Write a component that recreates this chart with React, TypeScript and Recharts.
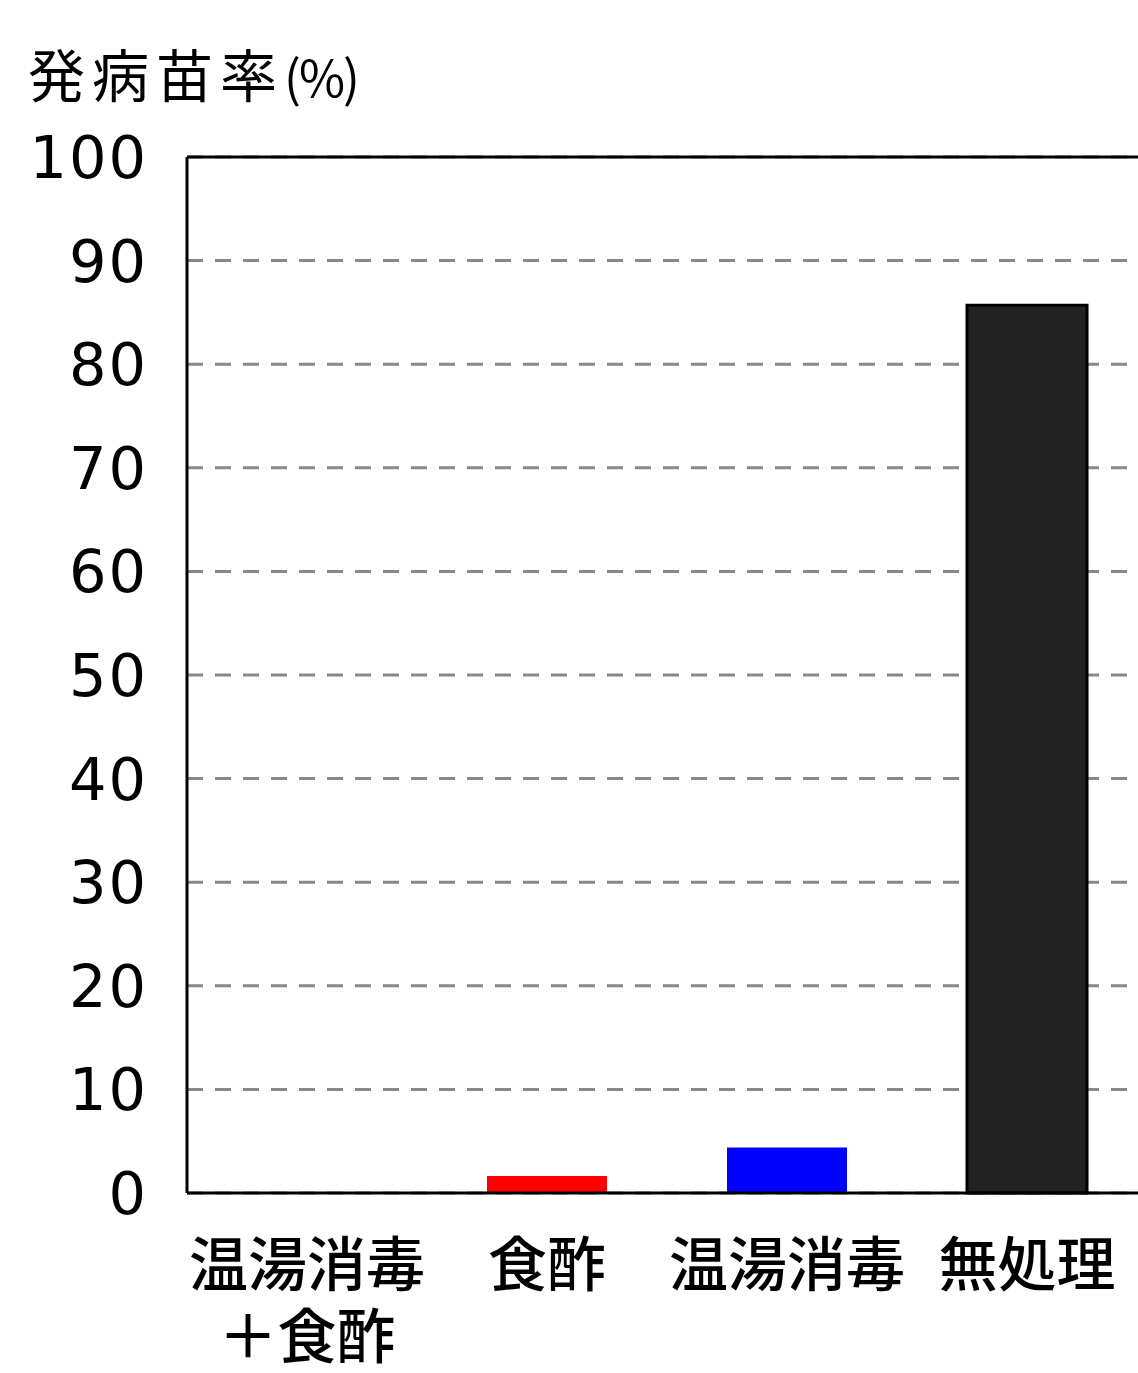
import React from "react";
import {
  BarChart,
  Bar,
  XAxis,
  YAxis,
  CartesianGrid,
  ReferenceLine,
  Cell,
} from "recharts";

// treatments and disease rate (%) of seedlings
const categories = ["温湯消毒\n＋食酢", "食酢", "温湯消毒", "無処理"];
const rates = [0, 1.65, 4.4, 85.7];
const barColors = ["#ff0000", "#ff0000", "#0000ff", "#222222"];
const yTicks = [0, 10, 20, 30, 40, 50, 60, 70, 80, 90, 100];
const yTitle = "発病苗率";
const yUnit = "(%)";

const data = categories.map((name, i) => ({ name, rate: rates[i] }));

const CJK = '"Noto Sans CJK JP", "Noto Sans", sans-serif';

const YTick = (props: any) => {
  const { y, payload } = props;
  return (
    <text
      x={148}
      y={y + 21}
      textAnchor="end"
      fontFamily='"DejaVu Sans", sans-serif'
      fontSize={59}
      letterSpacing={2}
      fill="#000"
    >
      {payload.value}
    </text>
  );
};

const XTick = (props: any) => {
  const { x, payload } = props;
  const lines = String(payload.value).split("\n");
  return (
    <text
      x={x}
      y={1286}
      textAnchor="middle"
      fontFamily={CJK}
      fontSize={59}
      fontWeight={500}
      fill="#000"
    >
      {lines.map((line, i) => (
        <tspan key={i} x={x} dy={i === 0 ? 0 : 72}>
          {line}
        </tspan>
      ))}
    </text>
  );
};

export default function App() {
  return (
    <div
      style={{
        position: "absolute",
        top: 0,
        left: 0,
        width: 1138,
        height: 1373,
        overflow: "hidden",
        background: "#fff",
      }}
    >
      <BarChart
        width={1160}
        height={1373}
        data={data}
        margin={{ top: 157, right: 13, left: 0, bottom: 0 }}
        barCategoryGap="25%"
      >
        <CartesianGrid
          horizontal
          vertical={false}
          stroke="#888"
          strokeWidth={3}
          strokeDasharray="16 12"
        />
        <XAxis
          dataKey="name"
          height={180}
          axisLine={{ stroke: "#000", strokeWidth: 3 }}
          tickLine={false}
          tick={<XTick />}
          interval={0}
        />
        <YAxis
          width={187}
          domain={[0, 100]}
          ticks={yTicks}
          interval={0}
          axisLine={{ stroke: "#000", strokeWidth: 3 }}
          tickLine={false}
          tick={<YTick />}
          label={{
            content: () => (
              <text x={28} y={97} fontFamily={CJK} fontSize={57} fill="#000">
                <tspan letterSpacing={7}>{yTitle}</tspan>
                <tspan fontSize={50} letterSpacing={-2}>
                  {yUnit}
                </tspan>
              </text>
            ),
          }}
        />
        <ReferenceLine y={100} stroke="#000" strokeWidth={3} ifOverflow="visible" />
        <Bar dataKey="rate" isAnimationActive={false}>
          {data.map((d, i) => (
            <Cell
              key={d.name}
              fill={barColors[i]}
              stroke={i === 3 ? "#000" : "none"}
              strokeWidth={i === 3 ? 3 : 0}
            />
          ))}
        </Bar>
      </BarChart>
    </div>
  );
}
